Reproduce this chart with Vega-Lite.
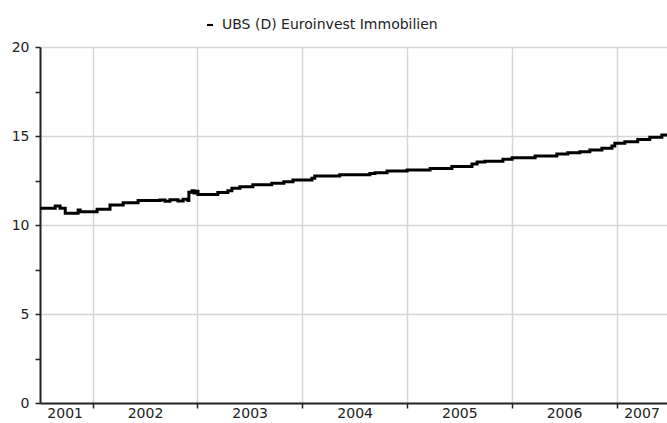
{
  "$schema": "https://vega.github.io/schema/vega-lite/v6.json",
  "width": 627,
  "height": 356,
  "autosize": {"type": "none"},
  "padding": {"left": 40, "top": 47, "right": 0, "bottom": 20},
  "background": "white",
  "config": {
    "view": {"stroke": null},
    "font": "DejaVu Sans",
    "axis": {
      "domainColor": "#222222",
      "domainWidth": 2,
      "tickColor": "#222222",
      "tickWidth": 1.5,
      "gridColor": "#d6d6d6",
      "gridWidth": 1.5,
      "labelColor": "#222222",
      "labelFont": "DejaVu Sans",
      "labelFontSize": 14,
      "title": null
    }
  },
  "data": {
    "values": [
      {"series": "UBS (D) Euroinvest Immobilien", "date": "2001-07-01", "value": 10.94},
      {"series": "UBS (D) Euroinvest Immobilien", "date": "2001-08-23", "value": 11.07},
      {"series": "UBS (D) Euroinvest Immobilien", "date": "2001-09-09", "value": 10.94},
      {"series": "UBS (D) Euroinvest Immobilien", "date": "2001-09-27", "value": 10.66},
      {"series": "UBS (D) Euroinvest Immobilien", "date": "2001-11-11", "value": 10.84},
      {"series": "UBS (D) Euroinvest Immobilien", "date": "2001-11-18", "value": 10.75},
      {"series": "UBS (D) Euroinvest Immobilien", "date": "2002-01-16", "value": 10.88},
      {"series": "UBS (D) Euroinvest Immobilien", "date": "2002-03-02", "value": 11.12},
      {"series": "UBS (D) Euroinvest Immobilien", "date": "2002-04-17", "value": 11.25},
      {"series": "UBS (D) Euroinvest Immobilien", "date": "2002-06-08", "value": 11.37},
      {"series": "UBS (D) Euroinvest Immobilien", "date": "2002-08-23", "value": 11.4},
      {"series": "UBS (D) Euroinvest Immobilien", "date": "2002-09-10", "value": 11.33},
      {"series": "UBS (D) Euroinvest Immobilien", "date": "2002-09-27", "value": 11.42},
      {"series": "UBS (D) Euroinvest Immobilien", "date": "2002-10-25", "value": 11.35},
      {"series": "UBS (D) Euroinvest Immobilien", "date": "2002-11-12", "value": 11.45},
      {"series": "UBS (D) Euroinvest Immobilien", "date": "2002-11-29", "value": 11.38},
      {"series": "UBS (D) Euroinvest Immobilien", "date": "2002-12-02", "value": 11.84},
      {"series": "UBS (D) Euroinvest Immobilien", "date": "2002-12-13", "value": 11.92},
      {"series": "UBS (D) Euroinvest Immobilien", "date": "2002-12-20", "value": 11.8},
      {"series": "UBS (D) Euroinvest Immobilien", "date": "2002-12-27", "value": 11.9},
      {"series": "UBS (D) Euroinvest Immobilien", "date": "2003-01-03", "value": 11.72},
      {"series": "UBS (D) Euroinvest Immobilien", "date": "2003-03-13", "value": 11.82},
      {"series": "UBS (D) Euroinvest Immobilien", "date": "2003-04-17", "value": 11.93},
      {"series": "UBS (D) Euroinvest Immobilien", "date": "2003-05-01", "value": 12.06},
      {"series": "UBS (D) Euroinvest Immobilien", "date": "2003-05-29", "value": 12.15},
      {"series": "UBS (D) Euroinvest Immobilien", "date": "2003-07-13", "value": 12.26},
      {"series": "UBS (D) Euroinvest Immobilien", "date": "2003-09-17", "value": 12.34},
      {"series": "UBS (D) Euroinvest Immobilien", "date": "2003-10-29", "value": 12.43},
      {"series": "UBS (D) Euroinvest Immobilien", "date": "2003-11-30", "value": 12.53},
      {"series": "UBS (D) Euroinvest Immobilien", "date": "2004-02-04", "value": 12.62},
      {"series": "UBS (D) Euroinvest Immobilien", "date": "2004-02-14", "value": 12.75},
      {"series": "UBS (D) Euroinvest Immobilien", "date": "2004-05-11", "value": 12.83},
      {"series": "UBS (D) Euroinvest Immobilien", "date": "2004-08-24", "value": 12.9},
      {"series": "UBS (D) Euroinvest Immobilien", "date": "2004-09-11", "value": 12.94},
      {"series": "UBS (D) Euroinvest Immobilien", "date": "2004-10-23", "value": 13.03},
      {"series": "UBS (D) Euroinvest Immobilien", "date": "2005-01-01", "value": 13.09},
      {"series": "UBS (D) Euroinvest Immobilien", "date": "2005-03-22", "value": 13.18},
      {"series": "UBS (D) Euroinvest Immobilien", "date": "2005-06-06", "value": 13.28},
      {"series": "UBS (D) Euroinvest Immobilien", "date": "2005-08-15", "value": 13.43},
      {"series": "UBS (D) Euroinvest Immobilien", "date": "2005-09-02", "value": 13.54},
      {"series": "UBS (D) Euroinvest Immobilien", "date": "2005-09-29", "value": 13.58},
      {"series": "UBS (D) Euroinvest Immobilien", "date": "2005-12-01", "value": 13.69},
      {"series": "UBS (D) Euroinvest Immobilien", "date": "2006-01-02", "value": 13.78},
      {"series": "UBS (D) Euroinvest Immobilien", "date": "2006-03-23", "value": 13.88},
      {"series": "UBS (D) Euroinvest Immobilien", "date": "2006-06-07", "value": 13.99},
      {"series": "UBS (D) Euroinvest Immobilien", "date": "2006-07-15", "value": 14.06},
      {"series": "UBS (D) Euroinvest Immobilien", "date": "2006-08-26", "value": 14.12},
      {"series": "UBS (D) Euroinvest Immobilien", "date": "2006-09-30", "value": 14.22},
      {"series": "UBS (D) Euroinvest Immobilien", "date": "2006-11-11", "value": 14.31},
      {"series": "UBS (D) Euroinvest Immobilien", "date": "2006-12-16", "value": 14.44},
      {"series": "UBS (D) Euroinvest Immobilien", "date": "2006-12-26", "value": 14.59},
      {"series": "UBS (D) Euroinvest Immobilien", "date": "2007-01-30", "value": 14.68},
      {"series": "UBS (D) Euroinvest Immobilien", "date": "2007-03-16", "value": 14.81},
      {"series": "UBS (D) Euroinvest Immobilien", "date": "2007-04-27", "value": 14.93},
      {"series": "UBS (D) Euroinvest Immobilien", "date": "2007-06-08", "value": 15.06},
      {"series": "UBS (D) Euroinvest Immobilien", "date": "2007-06-26", "value": 15.1}
    ]
  },
  "layer": [
    {
      "mark": {"type": "line", "interpolate": "step-after", "strokeWidth": 3, "strokeJoin": "miter"},
      "encoding": {
        "x": {
          "field": "date",
          "type": "temporal",
          "scale": {
            "type": "utc",
            "domain": [
              {"year": 2001, "month": 7, "date": 1, "utc": true},
              {"year": 2007, "month": 6, "date": 26, "utc": true}
            ]
          },
          "axis": {
            "orient": "bottom",
            "grid": true,
            "labels": false,
            "ticks": true,
            "tickSize": 5,
            "domain": true,
            "values": [
              {"year": 2002, "month": 1, "date": 1, "utc": true},
              {"year": 2003, "month": 1, "date": 1, "utc": true},
              {"year": 2004, "month": 1, "date": 1, "utc": true},
              {"year": 2005, "month": 1, "date": 1, "utc": true},
              {"year": 2006, "month": 1, "date": 1, "utc": true},
              {"year": 2007, "month": 1, "date": 1, "utc": true}
            ]
          }
        },
        "y": {
          "field": "value",
          "type": "quantitative",
          "scale": {"domain": [0, 20], "nice": false, "zero": true},
          "axis": {
            "values": [0, 2.5, 5, 7.5, 10, 12.5, 15, 17.5, 20],
            "labelExpr": "datum.value % 5 === 0 ? datum.label : ''",
            "grid": true,
            "gridOpacity": {"condition": {"test": "datum.value % 5 === 0 && datum.value > 0", "value": 1}, "value": 0},
            "tickSize": 5,
            "labelPadding": 6
          }
        },
        "color": {
          "field": "series",
          "type": "nominal",
          "scale": {"range": ["#000000"]},
          "legend": {
            "orient": "none",
            "legendX": 163,
            "legendY": -29,
            "title": null,
            "symbolType": "M-1,-0.35L1,-0.35L1,0.35L-1,0.35Z",
            "symbolSize": 36,
            "symbolFillColor": "#000000",
            "symbolStrokeWidth": 0,
            "labelFont": "DejaVu Sans",
            "labelFontSize": 14,
            "labelColor": "#222222",
            "labelLimit": 500,
            "labelOffset": 5
          }
        }
      }
    },
    {
      "mark": {"type": "line", "opacity": 0},
      "encoding": {
        "x": {
          "field": "date",
          "type": "temporal",
          "axis": {
            "orient": "bottom",
            "grid": false,
            "ticks": false,
            "domain": false,
            "labelPadding": 3,
            "labelExpr": "utcFormat(datum.value, '%Y')",
            "values": [
              {"year": 2001, "month": 9, "date": 25, "utc": true},
              {"year": 2002, "month": 7, "date": 2, "utc": true},
              {"year": 2003, "month": 7, "date": 2, "utc": true},
              {"year": 2004, "month": 7, "date": 2, "utc": true},
              {"year": 2005, "month": 7, "date": 2, "utc": true},
              {"year": 2006, "month": 7, "date": 2, "utc": true},
              {"year": 2007, "month": 3, "date": 29, "utc": true}
            ]
          }
        },
        "y": {"field": "value", "type": "quantitative"}
      }
    }
  ],
  "resolve": {"axis": {"x": "independent"}}
}
